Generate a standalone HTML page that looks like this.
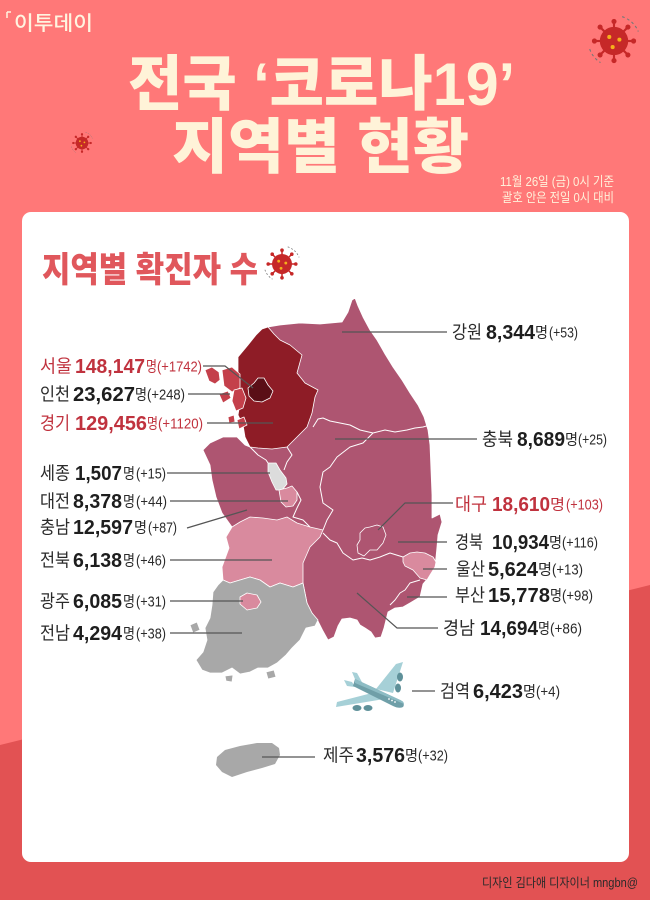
<!DOCTYPE html>
<html><head><meta charset="utf-8"><style>
html,body{margin:0;padding:0;background:#FF7878;}
svg{display:block;}
.nm{font-family:"Liberation Sans","Noto Sans CJK KR",sans-serif;font-size:18px;fill:#2a2a2a;}
.nb{font-family:"Liberation Sans","Noto Sans CJK KR",sans-serif;font-size:20px;font-weight:bold;fill:#1e1e1e;}
.my{font-family:"Liberation Sans","Noto Sans CJK KR",sans-serif;font-size:15px;fill:#2a2a2a;}
.pr{font-family:"Liberation Sans","Noto Sans CJK KR",sans-serif;font-size:15px;fill:#2a2a2a;}
.red{fill:#C0323E;}
.ln{stroke:#555;stroke-width:1.2;fill:none;}
.rg{stroke:#fff;stroke-width:0.8;stroke-linejoin:round;}
</style></head><body>
<svg width="650" height="900" viewBox="0 0 650 900" xmlns="http://www.w3.org/2000/svg">
<defs>
<g id="virus">
<g stroke="#C62828" stroke-width="1.6">
<line x1="0" y1="-10" x2="0" y2="-14.5"/><line x1="0" y1="10" x2="0" y2="14.5"/>
<line x1="-10" y1="0" x2="-14.5" y2="0"/><line x1="10" y1="0" x2="14.5" y2="0"/>
<line x1="7" y1="7" x2="10.3" y2="10.3"/><line x1="-7" y1="7" x2="-10.3" y2="10.3"/>
<line x1="7" y1="-7" x2="10.3" y2="-10.3"/><line x1="-7" y1="-7" x2="-10.3" y2="-10.3"/>
</g>
<g fill="#C62828">
<circle cx="0" cy="-14.5" r="1.9"/><circle cx="0" cy="14.5" r="1.9"/><circle cx="-14.5" cy="0" r="1.9"/><circle cx="14.5" cy="0" r="1.9"/>
<circle cx="10.3" cy="10.3" r="1.9"/><circle cx="-10.3" cy="10.3" r="1.9"/><circle cx="10.3" cy="-10.3" r="1.9"/><circle cx="-10.3" cy="-10.3" r="1.9"/>
<circle cx="0" cy="0" r="10.5"/>
</g>
<g fill="#F5B01C"><circle cx="-3.5" cy="-3" r="1.5"/><circle cx="4" cy="-1" r="1.5"/><circle cx="-1" cy="4.5" r="1.5"/></g>
<path d="M6,-18 A19,19 0 0 1 18,-7" stroke="#777" stroke-width="0.8" stroke-dasharray="2,2" fill="none"/>
<path d="M-18,6 A19,19 0 0 0 -10,16" stroke="#777" stroke-width="0.8" stroke-dasharray="2,2" fill="none"/>
</g>
</defs>

<!-- background -->
<rect x="0" y="0" width="650" height="900" fill="#FF7878"/>
<polygon points="0,745 650,585 650,900 0,900" fill="#E25253"/>

<!-- logo -->
<path d="M7,12 H11 M7,12 V18" stroke="#FFF4E0" stroke-width="1.5" fill="none"/>
<text x="14" y="30" font-family="'Liberation Sans','Noto Sans CJK KR',sans-serif" font-size="20" font-weight="500" fill="#FFF4E0" textLength="79" lengthAdjust="spacingAndGlyphs">이투데이</text>

<!-- viruses -->
<use href="#virus" transform="translate(614,41) scale(1.35)"/>
<use href="#virus" transform="translate(82,143) scale(0.6)"/>

<!-- title -->
<text x="128" y="105" font-family="'Liberation Sans','Noto Sans CJK KR',sans-serif" font-size="60" font-weight="900" fill="#FFF3D8" textLength="387" lengthAdjust="spacingAndGlyphs">전국 ‘코로나19’</text>
<text x="172" y="168" font-family="'Liberation Sans','Noto Sans CJK KR',sans-serif" font-size="60" font-weight="900" fill="#FFF3D8" textLength="297" lengthAdjust="spacingAndGlyphs">지역별 현황</text>

<text x="614" y="186" text-anchor="end" font-family="'Liberation Sans','Noto Sans CJK KR',sans-serif" font-size="13" fill="#FFF1DA" textLength="114" lengthAdjust="spacingAndGlyphs">11월 26일 (금) 0시 기준</text>
<text x="614" y="202" text-anchor="end" font-family="'Liberation Sans','Noto Sans CJK KR',sans-serif" font-size="13" fill="#FFF1DA" textLength="112" lengthAdjust="spacingAndGlyphs">괄호 안은 전일 0시 대비</text>

<!-- card -->
<rect x="22" y="212" width="607" height="650" rx="9" fill="#FFFFFF"/>

<text x="42" y="282" font-family="'Liberation Sans','Noto Sans CJK KR',sans-serif" font-size="35" font-weight="900" fill="#E0575C" textLength="216" lengthAdjust="spacingAndGlyphs">지역별 확진자 수</text>
<use href="#virus" transform="translate(282,264) scale(0.95)"/>

<!-- MAP -->
<g class="rg">
<!-- main peninsula mauve -->
<path fill="#AE5571" d="M238,357 L248,345 L256,335 L262,329 L268,327 L280,325 L300,323 L320,324 L342,322 L348,312 L352,300 L355,298 L358,306 L363,317 L370,330 L377,340 L385,354 L393,367 L402,380 L410,393 L418,405 L424,417 L428,430 L430,445 L431,470 L432,495 L432,518 L440,514 L442,522 L438,535 L437,547 L435,567 L428,578 L423,584 L420,597 L410,603 L403,607 L395,608 L388,612 L386,620 L384,628 L381,637 L375,638 L371,632 L365,628 L360,625 L357,620 L350,618 L342,619 L338,626 L334,637 L328,640 L323,631 L318,621 L312,613 L307,603 L303,583 L293,587 L280,583 L270,587 L260,580 L250,577 L240,580 L230,583 L223,580 L222,567 L229,548 L226,537 L232,527 L222,513 L216,497 L212,480 L210,465 L203,450 L210,443 L223,437 L237,437 L245,445 L250,447 L245,437 L243,425 L238,415 L240,403 L236,390 L238,375 Z"/>
<!-- Gyeonggi -->
<path fill="#8E1C26" d="M238,357 L248,345 L256,335 L262,329 L268,327 L274,334 L280,340 L290,345 L302,355 L297,373 L305,383 L318,390 L315,397 L312,413 L307,427 L297,437 L287,447 L272,449 L258,448 L250,447 L245,437 L243,425 L238,415 L240,403 L236,390 L238,375 Z"/>
<!-- Incheon -->
<path fill="#C4404B" d="M222,370 L232,367 L240,374 L240,388 L232,392 L224,386 Z"/>
<path fill="#C4404B" d="M234,390 L242,388 L246,398 L243,408 L236,411 L232,401 Z"/>
<path fill="#C4404B" d="M205,370 L212,367 L219,372 L220,380 L215,384 L209,381 Z"/>
<path fill="#C4404B" d="M219,394 L228,391 L231,398 L223,403 Z"/>
<path fill="#C4404B" d="M228,417 L234,415 L235,422 L229,423 Z"/>
<path fill="#C4404B" d="M237,420 L244,417 L247,425 L239,429 Z"/>
<!-- Seoul -->
<path fill="#5A0E16" d="M248,388 L254,383 L258,378 L264,378 L268,385 L273,391 L270,398 L262,402 L254,401 L249,396 Z"/>
<!-- Sejong -->
<path fill="#DCDCDC" d="M268,463 L276,463 L280,470 L286,478 L287,484 L282,490 L276,490 L272,482 L268,472 Z"/>
<!-- Daejeon -->
<path fill="#D98A9E" d="M279,490 L287,488 L292,486 L297,492 L297,500 L293,506 L286,507 L281,502 Z"/>
<!-- Jeonbuk -->
<path fill="#D98A9E" d="M232,527 L240,522 L250,517 L263,518 L277,520 L287,517 L297,523 L310,527 L323,530 L320,537 L310,547 L303,563 L303,583 L293,587 L280,583 L270,587 L260,580 L250,577 L240,580 L230,583 L223,580 L222,567 L229,548 L226,537 Z"/>
<!-- Jeonnam -->
<path fill="#A8A8A8" d="M223,580 L230,583 L240,580 L250,577 L260,580 L270,587 L280,583 L293,587 L303,583 L307,603 L312,613 L318,620 L315,626 L306,628 L300,640 L292,648 L286,655 L277,663 L268,668 L258,668 L250,672 L240,674 L232,668 L222,673 L210,673 L202,670 L196,660 L203,652 L207,640 L205,628 L210,618 L212,605 L213,592 L218,585 Z"/>
<path fill="#A8A8A8" d="M190,625 L197,622 L200,630 L193,633 Z"/>
<path fill="#A8A8A8" d="M266,672 L274,670 L276,677 L268,679 Z"/>
<path fill="#A8A8A8" d="M225,676 L233,675 L232,682 L226,681 Z"/>
<!-- Gwangju -->
<path fill="#D98A9E" d="M240,597 L247,593 L257,595 L261,602 L257,608 L247,610 L240,604 Z"/>
<!-- Daegu -->
<path fill="#AE5571" d="M360,533 L365,528 L370,527 L377,525 L383,527 L386,535 L383,543 L377,550 L370,550 L364,556 L358,553 L357,545 L360,540 Z"/>
<!-- Ulsan -->
<path fill="#D98A9E" d="M403,557 L410,553 L417,552 L425,553 L433,557 L436,562 L435,567 L430,575 L427,580 L420,578 L413,570 L405,566 L403,562 Z"/>
<!-- Jeju -->
<path fill="#A8A8A8" d="M217,757 L225,750 L240,746 L257,743 L272,743 L279,748 L280,755 L275,764 L262,768 L247,772 L232,777 L222,772 L216,765 Z" stroke="none"/>
</g>
<!-- interior borders -->
<g stroke="#fff" stroke-width="1" fill="none" stroke-linejoin="round">
<path d="M313,427 L318,419 L323,418 L330,421 L340,423 L350,425 L360,430 L373,433 L385,430 L395,432 L407,430 L415,428 L423,427 L430,425"/>
<path d="M373,433 L363,443 L350,447 L337,457 L330,467 L323,472 L320,487 L323,503 L333,510 L327,520 L323,530"/>
<path d="M287,447 L292,455 L287,462 L284,470 M297,492 L301,500 L297,508 L293,517 L303,520 L310,527"/>
<path d="M323,533 L330,540 L337,543 L343,553 L353,560 L362,558 L370,560 L380,557 L390,553 L403,557"/>
<path d="M420,580 L410,583 L405,590 L400,593 L395,600 L390,605"/>
<path d="M250,447 L258,455 L266,460 L268,463"/>
</g>

<!-- airplane -->
<g>
<polygon points="376,689 396,664 403,662 393,693" fill="#A6D0D7"/>
<polygon points="372,693 337,702 336,707 384,699" fill="#A6D0D7"/>
<polygon points="352,672 357,673 363,684 357,684" fill="#A6D0D7"/>
<polygon points="344,680 352,682 355,687 347,686" fill="#A6D0D7"/>
<path d="M355,679 L398,699 Q406,703 403,707 Q399,709 393,706 L353,686 Z" fill="#6F9FA8"/>
<path d="M355,679 L398,699 Q404,701 404,704 L355,683 Z" fill="#8DBCC4"/>
<ellipse cx="400" cy="677" rx="3" ry="4.5" fill="#5E9099"/>
<ellipse cx="398" cy="688" rx="3" ry="4.5" fill="#5E9099"/>
<ellipse cx="357" cy="708" rx="4.5" ry="3" fill="#5E9099"/>
<ellipse cx="368" cy="708" rx="4.5" ry="3" fill="#5E9099"/>
<circle cx="389" cy="699" r="0.9" fill="#fff"/><circle cx="392" cy="700.5" r="0.9" fill="#fff"/><circle cx="395" cy="702" r="0.9" fill="#fff"/>
</g>

<!-- leader lines -->
<g class="ln">
<path d="M203,366 H225 L253,388"/>
<path d="M188,394 H230"/>
<path d="M207,423 H273"/>
<path d="M167,473 H270"/>
<path d="M170,501 H288"/>
<path d="M187,528 L247,510"/>
<path d="M170,560 H272"/>
<path d="M170,601 H243"/>
<path d="M170,633 H242"/>
<path d="M342,332 H447"/>
<path d="M335,439 H477"/>
<path d="M378,530 L405,503 H453"/>
<path d="M398,542 H447"/>
<path d="M423,569 H447"/>
<path d="M407,597 H447"/>
<path d="M357,593 L397,628 H438"/>
<path d="M412,691 H435"/>
<path d="M262,757 H315"/>
</g>

<!-- labels left -->
<g lengthAdjust="spacingAndGlyphs">
<text class="nm red" x="40" y="372.5" textLength="32" lengthAdjust="spacingAndGlyphs">서울</text>
<text class="nb red" x="75" y="373" textLength="70" lengthAdjust="spacingAndGlyphs">148,147</text>
<text class="my red" x="146" y="371.5" textLength="11" lengthAdjust="spacingAndGlyphs">명</text>
<text class="pr red" x="157" y="371.5" textLength="45" lengthAdjust="spacingAndGlyphs">(+1742)</text>

<text class="nm" x="40" y="400.5" textLength="30" lengthAdjust="spacingAndGlyphs">인천</text>
<text class="nb" x="73" y="401" textLength="62" lengthAdjust="spacingAndGlyphs">23,627</text>
<text class="my" x="135" y="399.5" textLength="12" lengthAdjust="spacingAndGlyphs">명</text>
<text class="pr" x="147" y="399.5" textLength="38" lengthAdjust="spacingAndGlyphs">(+248)</text>

<text class="nm red" x="40" y="429.5" textLength="30" lengthAdjust="spacingAndGlyphs">경기</text>
<text class="nb red" x="75" y="430" textLength="72" lengthAdjust="spacingAndGlyphs">129,456</text>
<text class="my red" x="147" y="428.5" textLength="11" lengthAdjust="spacingAndGlyphs">명</text>
<text class="pr red" x="158" y="428.5" textLength="45" lengthAdjust="spacingAndGlyphs">(+1120)</text>

<text class="nm" x="40" y="479.5" textLength="30" lengthAdjust="spacingAndGlyphs">세종</text>
<text class="nb" x="75" y="480" textLength="47" lengthAdjust="spacingAndGlyphs">1,507</text>
<text class="my" x="123" y="478.5" textLength="12" lengthAdjust="spacingAndGlyphs">명</text>
<text class="pr" x="136" y="478.5" textLength="30" lengthAdjust="spacingAndGlyphs">(+15)</text>

<text class="nm" x="40" y="507.5" textLength="30" lengthAdjust="spacingAndGlyphs">대전</text>
<text class="nb" x="73" y="508" textLength="49" lengthAdjust="spacingAndGlyphs">8,378</text>
<text class="my" x="123" y="506.5" textLength="12" lengthAdjust="spacingAndGlyphs">명</text>
<text class="pr" x="136" y="506.5" textLength="31" lengthAdjust="spacingAndGlyphs">(+44)</text>

<text class="nm" x="40" y="533.5" textLength="30" lengthAdjust="spacingAndGlyphs">충남</text>
<text class="nb" x="73" y="534" textLength="60" lengthAdjust="spacingAndGlyphs">12,597</text>
<text class="my" x="134" y="532.5" textLength="13" lengthAdjust="spacingAndGlyphs">명</text>
<text class="pr" x="148" y="532.5" textLength="29" lengthAdjust="spacingAndGlyphs">(+87)</text>

<text class="nm" x="40" y="566.5" textLength="30" lengthAdjust="spacingAndGlyphs">전북</text>
<text class="nb" x="73" y="567" textLength="49" lengthAdjust="spacingAndGlyphs">6,138</text>
<text class="my" x="123" y="565.5" textLength="12" lengthAdjust="spacingAndGlyphs">명</text>
<text class="pr" x="136" y="565.5" textLength="30" lengthAdjust="spacingAndGlyphs">(+46)</text>

<text class="nm" x="40" y="607.5" textLength="30" lengthAdjust="spacingAndGlyphs">광주</text>
<text class="nb" x="73" y="608" textLength="49" lengthAdjust="spacingAndGlyphs">6,085</text>
<text class="my" x="123" y="606.5" textLength="12" lengthAdjust="spacingAndGlyphs">명</text>
<text class="pr" x="136" y="606.5" textLength="30" lengthAdjust="spacingAndGlyphs">(+31)</text>

<text class="nm" x="40" y="639.5" textLength="30" lengthAdjust="spacingAndGlyphs">전남</text>
<text class="nb" x="73" y="640" textLength="49" lengthAdjust="spacingAndGlyphs">4,294</text>
<text class="my" x="123" y="638.5" textLength="12" lengthAdjust="spacingAndGlyphs">명</text>
<text class="pr" x="136" y="638.5" textLength="30" lengthAdjust="spacingAndGlyphs">(+38)</text>
</g>

<!-- labels right -->
<g>
<text class="nm" x="452" y="338.5" textLength="30" lengthAdjust="spacingAndGlyphs">강원</text>
<text class="nb" x="486" y="339" textLength="49" lengthAdjust="spacingAndGlyphs">8,344</text>
<text class="my" x="535" y="337.5" textLength="13" lengthAdjust="spacingAndGlyphs">명</text>
<text class="pr" x="549" y="337.5" textLength="29" lengthAdjust="spacingAndGlyphs">(+53)</text>

<text class="nm" x="482" y="445.5" textLength="31" lengthAdjust="spacingAndGlyphs">충북</text>
<text class="nb" x="517" y="446" textLength="48" lengthAdjust="spacingAndGlyphs">8,689</text>
<text class="my" x="565" y="444.5" textLength="13" lengthAdjust="spacingAndGlyphs">명</text>
<text class="pr" x="578" y="444.5" textLength="29" lengthAdjust="spacingAndGlyphs">(+25)</text>

<text class="nm red" x="455" y="510.5" textLength="32" lengthAdjust="spacingAndGlyphs">대구</text>
<text class="nb red" x="492" y="511" textLength="58" lengthAdjust="spacingAndGlyphs">18,610</text>
<text class="my red" x="550" y="509.5" textLength="15" lengthAdjust="spacingAndGlyphs">명</text>
<text class="pr red" x="566" y="509.5" textLength="37" lengthAdjust="spacingAndGlyphs">(+103)</text>

<text class="nm" x="455" y="548.5" textLength="28" lengthAdjust="spacingAndGlyphs">경북</text>
<text class="nb" x="492" y="549" textLength="57" lengthAdjust="spacingAndGlyphs">10,934</text>
<text class="my" x="549" y="547.5" textLength="13" lengthAdjust="spacingAndGlyphs">명</text>
<text class="pr" x="562" y="547.5" textLength="36" lengthAdjust="spacingAndGlyphs">(+116)</text>

<text class="nm" x="456" y="575.5" textLength="29" lengthAdjust="spacingAndGlyphs">울산</text>
<text class="nb" x="488" y="576" textLength="50" lengthAdjust="spacingAndGlyphs">5,624</text>
<text class="my" x="538" y="574.5" textLength="14" lengthAdjust="spacingAndGlyphs">명</text>
<text class="pr" x="552" y="574.5" textLength="31" lengthAdjust="spacingAndGlyphs">(+13)</text>

<text class="nm" x="455" y="601.5" textLength="30" lengthAdjust="spacingAndGlyphs">부산</text>
<text class="nb" x="488" y="602" textLength="62" lengthAdjust="spacingAndGlyphs">15,778</text>
<text class="my" x="550" y="600.5" textLength="12" lengthAdjust="spacingAndGlyphs">명</text>
<text class="pr" x="562" y="600.5" textLength="31" lengthAdjust="spacingAndGlyphs">(+98)</text>

<text class="nm" x="443" y="634.5" textLength="32" lengthAdjust="spacingAndGlyphs">경남</text>
<text class="nb" x="480" y="635" textLength="58" lengthAdjust="spacingAndGlyphs">14,694</text>
<text class="my" x="538" y="633.5" textLength="12" lengthAdjust="spacingAndGlyphs">명</text>
<text class="pr" x="550" y="633.5" textLength="32" lengthAdjust="spacingAndGlyphs">(+86)</text>

<text class="nm" x="440" y="697.5" textLength="30" lengthAdjust="spacingAndGlyphs">검역</text>
<text class="nb" x="473" y="698" textLength="50" lengthAdjust="spacingAndGlyphs">6,423</text>
<text class="my" x="523" y="696.5" textLength="13" lengthAdjust="spacingAndGlyphs">명</text>
<text class="pr" x="536" y="696.5" textLength="24" lengthAdjust="spacingAndGlyphs">(+4)</text>

<text class="nm" x="323" y="761.5" textLength="31" lengthAdjust="spacingAndGlyphs">제주</text>
<text class="nb" x="356" y="762" textLength="49" lengthAdjust="spacingAndGlyphs">3,576</text>
<text class="my" x="405" y="760.5" textLength="13" lengthAdjust="spacingAndGlyphs">명</text>
<text class="pr" x="418" y="760.5" textLength="30" lengthAdjust="spacingAndGlyphs">(+32)</text>
</g>

<!-- footer -->
<text x="482" y="887" font-family="'Liberation Sans','Noto Sans CJK KR',sans-serif" font-size="12.5" fill="#2a2a2a" textLength="156" lengthAdjust="spacingAndGlyphs">디자인 김다애 디자이너 mngbn@</text>
</svg>
</body></html>
